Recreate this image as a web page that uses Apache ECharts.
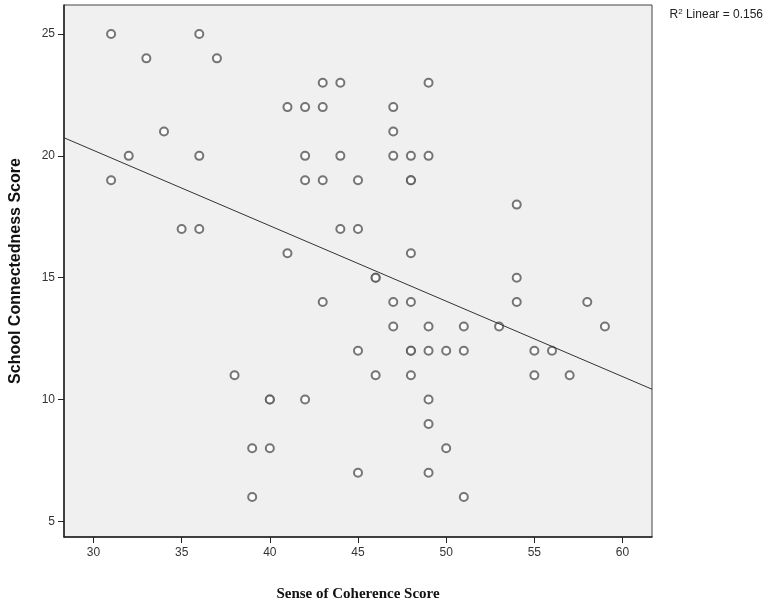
<!DOCTYPE html>
<html>
<head>
<meta charset="utf-8">
<script src="https://cdn.jsdelivr.net/npm/echarts@6/dist/echarts.min.js"></script>
<style>
html, body { margin: 0; padding: 0; background: #fff; }
#main { width: 767px; height: 613px; }
</style>
</head>
<body>
<div id="main"></div>
<script>
// Sense of Coherence (x) vs School Connectedness (y)
var xValues = [31, 33, 36, 37, 34, 32, 31, 36, 35, 36,
	41, 42, 43, 43, 44, 42, 42, 43, 44, 45,
	44, 45, 41, 43, 46, 46, 47, 47, 47, 48,
	49, 49, 48, 48, 48, 47, 48, 47, 49, 48,
	48, 49, 50, 51, 51, 48, 45, 46, 38, 40,
	40, 42, 39, 40, 39, 45, 49, 49, 50, 49,
	51, 54, 54, 54, 53, 55, 56, 55, 57, 58, 59];
var yValues = [25, 24, 25, 24, 21, 20, 19, 20, 17, 17,
	22, 22, 23, 22, 23, 20, 19, 19, 20, 19,
	17, 17, 16, 14, 15, 15, 22, 21, 20, 20,
	20, 23, 19, 19, 16, 14, 14, 13, 13, 12,
	12, 12, 12, 12, 13, 11, 12, 11, 11, 10,
	10, 10, 8, 8, 6, 7, 10, 9, 8, 7,
	6, 18, 15, 14, 13, 12, 12, 11, 11, 14, 13];
var xTicks = [30, 35, 40, 45, 50, 55, 60];
var yTicks = [5, 10, 15, 20, 25];
var xMin = 28.33, xMax = 61.67;

var points = xValues.map(function (x, i) { return [x, yValues[i]]; });

// least squares fit line
var n = xValues.length, sx = 0, sy = 0, sxx = 0, sxy = 0;
for (var i = 0; i < n; i++) {
	sx += xValues[i]; sy += yValues[i];
	sxx += xValues[i] * xValues[i]; sxy += xValues[i] * yValues[i];
}
var slope = (n * sxy - sx * sy) / (n * sxx - sx * sx);
var icpt = (sy - slope * sx) / n;
var fitLine = [[xMin, icpt + slope * xMin], [xMax, icpt + slope * xMax]];

var myChart = echarts.init(document.getElementById('main'));
var option = {
	animation : false,
	textStyle : { fontFamily : 'Liberation Sans' },
	graphic : [ {
		type : 'text',
		right : 4,
		top : 8,
		style : {
			text : '{a|R}{s|2}{a| Linear = 0.156}',
			rich : {
				a : { fontSize : 12, fill : '#222', fontFamily : 'Liberation Sans' },
				s : { fontSize : 8, fill : '#222', verticalAlign : 'top', padding : [0, 0, 6, 0] }
			}
		}
	} ],
	grid : {
		left : 60,
		right : 115,
		top : 5,
		bottom : 76,
		show : true,
		backgroundColor : '#f0f0f0',
		borderColor : '#444',
		borderWidth : 1
	},
	xAxis : {
		type : 'value',
		min : xMin,
		max : xMax,
		name : 'Sense of Coherence Score',
		nameLocation : 'middle',
		nameGap : 50,
		nameTextStyle : { fontFamily : 'Liberation Serif', fontWeight : 'bold', fontSize : 15, color : '#111' },
		splitLine : { show : false },
		axisLine : { lineStyle : { color : '#222', width : 1.5 } },
		axisTick : { show : true, length : 6, customValues : xTicks, lineStyle : { color : '#222' } },
		axisLabel : { customValues : xTicks, color : '#333', fontSize : 12, margin : 10 }
	},
	yAxis : {
		type : 'value',
		min : 4.36,
		max : 26.19,
		name : 'School Connectedness Score',
		nameLocation : 'middle',
		nameGap : 40,
		nameTextStyle : { fontWeight : 'bold', fontSize : 16, color : '#111' },
		splitLine : { show : false },
		axisLine : { show : true, lineStyle : { color : '#222', width : 1.5 } },
		axisTick : { show : true, length : 6, customValues : yTicks, lineStyle : { color : '#222' } },
		axisLabel : { customValues : yTicks, color : '#333', fontSize : 12, margin : 9 }
	},
	series : [ {
		type : 'line',
		data : fitLine,
		symbol : 'none',
		lineStyle : { color : '#333', width : 1 },
		silent : true
	}, {
		type : 'scatter',
		data : points,
		symbol : 'emptyCircle',
		symbolSize : 8,
		itemStyle : { color : '#555', borderWidth : 1.1 }
	} ]
};
myChart.setOption(option);
</script>
</body>
</html>
